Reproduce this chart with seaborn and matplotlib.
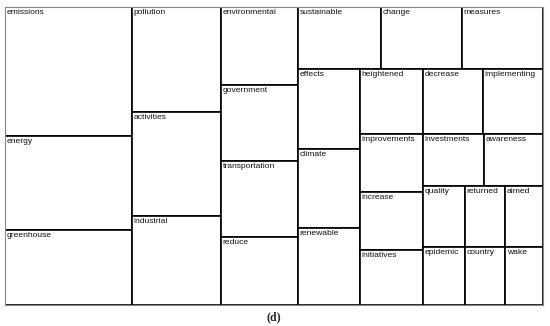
import numpy as np
import pandas as pd
import matplotlib
matplotlib.use("Agg")
import matplotlib.pyplot as plt
import seaborn as sns
from matplotlib.patches import Rectangle

# word weights (estimated from the tile areas)
words = ["emissions", "energy", "greenhouse",
         "pollution", "activities", "industrial",
         "environmental", "government", "transportation", "reduce",
         "sustainable", "change", "measures",
         "effects", "climate", "renewable",
         "heightened", "decrease", "implementing",
         "improvements", "increase", "initiatives",
         "investments", "awareness",
         "quality", "epidemic", "returned", "aimed", "country", "wake"]
weights = [16380, 11940, 9530,
           9350, 9260, 7920,
           6010, 5850, 5850, 5240,
           5150, 5020, 5020,
           4960, 4900, 4770,
           4100, 3900, 3900,
           3650, 3650, 3470,
           3170, 3070,
           2560, 2440, 2440, 2320, 2320, 2200]

W, H = 538.0, 298.0


def worst(row, side):
    s = sum(row)
    return max(max(s * s / (r * side * side), r * side * side / (s * s)) for r in row)


def squarify(vals, x, y, w, h):
    rects = []
    vals = list(vals)
    while vals:
        side = min(w, h)
        row = [vals.pop(0)]
        while vals and worst(row + [vals[0]], side) <= worst(row, side):
            row.append(vals.pop(0))
        s = sum(row)
        if w >= h:
            cw = s / h
            yy = y
            for r in row:
                rects.append((x, yy, cw, r / cw))
                yy += r / cw
            x += cw
            w -= cw
        else:
            rh = s / w
            xx = x
            for r in row:
                rects.append((xx, y, r / rh, rh))
                xx += r / rh
            y += rh
            h -= rh
    return rects


df = pd.DataFrame({"word": words, "weight": weights})
df["area"] = df.weight / df.weight.sum() * W * H
rects = squarify(df.area.tolist(), 0, 0, W, H)

sns.set_theme(style="white")
fig = plt.figure(figsize=(5.5, 3.26), dpi=100)
ax = fig.add_axes([5 / 550, 21 / 326, W / 550, H / 326])

for word, (x, y, w, h) in zip(df.word, rects):
    ax.add_patch(Rectangle((x, y), w, h, facecolor="white", edgecolor="black", lw=1.2))
    ax.text(x + 1.5, y + 2.0, word, va="top", ha="left", fontsize=6.1,
            family="Liberation Sans", color="#111111")

ax.set_xlim(0, W)
ax.set_ylim(H, 0)
ax.set_xticks([])
ax.set_yticks([])
for sp in ax.spines.values():
    sp.set_color("#888888")
    sp.set_linewidth(0.8)

fig.text(273.5 / 550, 1 - 317 / 326, "(d)", ha="center", va="center",
         fontsize=8.5, family="Liberation Serif", fontweight="bold")

fig.savefig("out.png", dpi=100)
